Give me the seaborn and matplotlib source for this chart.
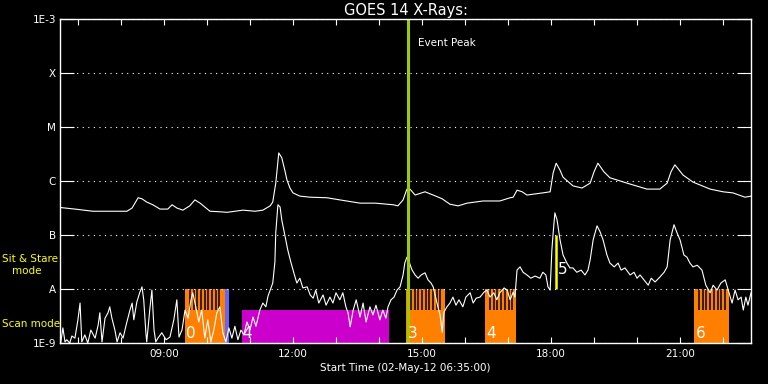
import numpy as np
import pandas as pd
import matplotlib
matplotlib.use("Agg")
import matplotlib.pyplot as plt
import seaborn as sns

# ---------------- data ----------------
# time in decimal hours (UT, 02-May-12), flux as log10(W/m^2)
long_time = [6.58, 6.93, 7.35, 7.74, 8.14, 8.26, 8.40, 8.49, 8.60, 8.74, 8.91, 9.09, 9.19, 9.30,
             9.44, 9.60, 9.72, 9.84, 10.07, 10.30, 10.47, 10.65, 10.84, 11.12, 11.30, 11.47,
             11.53, 11.60, 11.67, 11.74, 11.81, 11.86, 11.93, 12.00, 12.16, 12.40, 12.79, 13.09,
             13.56, 13.91, 14.33, 14.44, 14.56, 14.65, 14.72, 14.84, 15.07, 15.26, 15.47, 15.65,
             15.84, 16.05, 16.42, 16.81, 17.05, 17.12, 17.21, 17.33, 17.44, 17.81, 17.98, 18.05,
             18.12, 18.21, 18.28, 18.51, 18.72, 18.91, 19.00, 19.09, 19.23, 19.37, 19.77, 20.23,
             20.53, 20.70, 20.79, 20.88, 21.07, 21.30, 21.70, 22.00, 22.23, 22.51, 22.65]
long_logflux = [-6.49, -6.52, -6.56, -6.56, -6.56, -6.50, -6.31, -6.33, -6.39, -6.44, -6.52, -6.52,
                -6.44, -6.50, -6.54, -6.46, -6.35, -6.41, -6.56, -6.57, -6.58, -6.56, -6.54, -6.56,
                -6.54, -6.46, -6.39, -6.04, -5.48, -5.57, -5.80, -5.98, -6.13, -6.22, -6.28, -6.30,
                -6.31, -6.35, -6.41, -6.41, -6.44, -6.46, -6.35, -6.15, -6.15, -6.26, -6.20, -6.26,
                -6.33, -6.43, -6.46, -6.41, -6.37, -6.37, -6.31, -6.30, -6.17, -6.20, -6.26, -6.22,
                -6.20, -5.85, -5.67, -5.80, -5.93, -6.09, -6.13, -6.04, -5.83, -5.67, -5.83, -5.94,
                -6.04, -6.15, -6.15, -6.04, -5.83, -5.70, -5.89, -6.02, -6.15, -6.20, -6.22, -6.30,
                -6.28]

short_time = [6.60, 6.65, 6.70, 6.74, 6.81, 6.86, 6.93, 7.00, 7.05, 7.09, 7.16, 7.23, 7.30, 7.40,
              7.47, 7.51, 7.56, 7.63, 7.70, 7.74, 7.79, 7.86, 7.91, 7.98, 8.05, 8.12, 8.21, 8.26,
              8.30, 8.37, 8.44, 8.49, 8.53, 8.58, 8.60, 8.67, 8.72, 8.77, 8.81, 8.86, 8.95, 9.05,
              9.14, 9.23, 9.30, 9.35, 9.42, 9.49, 9.56, 9.63, 9.67, 9.74, 9.81, 9.88, 9.95, 10.02,
              10.09, 10.16, 10.23, 10.30, 10.37, 10.44, 10.51, 10.58, 10.65, 10.72, 10.79, 10.86,
              10.93, 11.00, 11.07, 11.14, 11.23, 11.30, 11.37, 11.42, 11.47, 11.53, 11.58, 11.60,
              11.65, 11.70, 11.74, 11.81, 11.88, 11.95, 12.02, 12.09, 12.16, 12.23, 12.33, 12.40,
              12.47, 12.53, 12.60, 12.70, 12.77, 12.86, 12.93, 13.00, 13.09, 13.16, 13.23, 13.28,
              13.33, 13.40, 13.47, 13.56, 13.63, 13.70, 13.79, 13.86, 13.93, 14.02, 14.09, 14.16,
              14.21, 14.28, 14.35, 14.42, 14.49, 14.56, 14.60, 14.65, 14.70, 14.77, 14.84, 14.91,
              14.98, 15.07, 15.14, 15.21, 15.26, 15.33, 15.37, 15.42, 15.47, 15.51, 15.58, 15.65,
              15.72, 15.79, 15.86, 15.95, 16.02, 16.12, 16.19, 16.26, 16.35, 16.44, 16.51, 16.58,
              16.67, 16.74, 16.81, 16.91, 16.98, 17.05, 17.12, 17.16, 17.21, 17.28, 17.35, 17.44,
              17.53, 17.63, 17.74, 17.81, 17.88, 17.93, 17.98, 18.02, 18.05, 18.09, 18.14, 18.21,
              18.28, 18.37, 18.44, 18.51, 18.60, 18.70, 18.79, 18.86, 18.91, 18.98, 19.07, 19.14,
              19.21, 19.30, 19.37, 19.47, 19.56, 19.63, 19.72, 19.84, 19.93, 20.00, 20.07, 20.16,
              20.26, 20.33, 20.42, 20.53, 20.63, 20.70, 20.77, 20.86, 20.93, 21.00, 21.09, 21.16,
              21.23, 21.30, 21.40, 21.51, 21.60, 21.70, 21.77, 21.86, 21.95, 22.05, 22.12, 22.21,
              22.28, 22.35, 22.42, 22.47, 22.53, 22.58, 22.65]
short_logflux = [-9.00, -8.72, -8.98, -8.94, -9.00, -8.87, -8.91, -8.57, -8.26, -8.98, -8.85, -9.00,
                 -8.76, -8.91, -8.67, -8.44, -8.98, -8.54, -8.44, -8.33, -8.54, -8.76, -8.98, -8.81,
                 -8.91, -8.67, -8.39, -8.26, -8.57, -8.24, -8.06, -7.96, -8.20, -8.81, -8.98, -8.39,
                 -8.02, -8.76, -8.98, -8.91, -8.81, -8.94, -8.89, -8.57, -8.20, -8.89, -8.76, -8.39,
                 -8.54, -8.20, -8.07, -8.33, -8.61, -8.39, -8.91, -8.57, -8.98, -8.76, -8.44, -8.33,
                 -8.81, -8.98, -8.72, -8.91, -8.69, -8.94, -8.76, -8.85, -8.61, -8.76, -8.52, -8.69,
                 -8.39, -8.26, -8.33, -8.13, -8.02, -7.89, -7.50, -6.96, -6.44, -6.48, -6.72, -7.00,
                 -7.28, -7.50, -7.70, -7.89, -7.80, -7.98, -7.96, -8.11, -8.17, -8.02, -8.26, -8.11,
                 -8.30, -8.15, -8.26, -8.07, -8.20, -8.07, -8.33, -8.44, -8.70, -8.39, -8.20, -8.52,
                 -8.26, -8.61, -8.33, -8.48, -8.30, -8.57, -8.39, -8.54, -8.33, -8.20, -8.15, -8.02,
                 -7.96, -7.74, -7.52, -7.41, -7.50, -7.65, -7.74, -7.80, -7.74, -7.70, -7.83, -7.89,
                 -7.96, -8.20, -8.33, -8.48, -8.80, -8.43, -8.33, -8.26, -8.15, -8.30, -8.20, -8.33,
                 -8.15, -8.07, -8.26, -8.17, -8.15, -8.06, -8.02, -8.15, -8.07, -8.20, -8.07, -7.98,
                 -8.02, -8.20, -8.06, -8.15, -7.65, -7.59, -7.69, -7.74, -7.80, -7.76, -7.80, -7.69,
                 -7.74, -7.96, -8.02, -7.28, -6.96, -6.59, -6.72, -7.09, -7.37, -7.52, -7.61, -7.61,
                 -7.69, -7.65, -7.74, -7.65, -7.46, -7.09, -6.83, -6.94, -7.09, -7.37, -7.52, -7.59,
                 -7.52, -7.65, -7.61, -7.74, -7.69, -7.80, -7.74, -7.83, -7.93, -7.80, -7.87, -7.78,
                 -7.69, -7.59, -7.09, -6.81, -6.96, -7.09, -7.37, -7.41, -7.52, -7.59, -7.56, -7.65,
                 -7.93, -8.07, -7.93, -8.02, -7.89, -7.83, -8.02, -8.26, -8.02, -8.20, -8.15, -8.39,
                 -8.15, -8.30, -8.07]

# observing-mode intervals (start, end in hours)
sitstare_start = [9.49, 14.63, 16.47, 21.33]
sitstare_end = [10.42, 15.53, 17.19, 22.14]
sitstare_label = ["0", "3", "4", "6"]
blue_start = [10.42]
blue_end = [10.51]
scan_start = [10.81]
scan_end = [14.23]
scan_label = ["4"]
marker5_time = 18.11
marker5_label = "5"
event_peak_time = 14.68

yticks_log = [-9, -8, -7, -6, -5, -4, -3]
ytick_labels = ["1E-9", "A", "B", "C", "M", "X", "1E-3"]
xticks_hours = [9, 12, 15, 18, 21]
xtick_labels = ["09:00", "12:00", "15:00", "18:00", "21:00"]
t_start, t_end = 6.5833, 22.65

title = "GOES 14 X-Rays:"
xlabel = "Start Time (02-May-12 06:35:00)"

# ---------------- style ----------------
sns.set_theme(style="dark")
plt.rcParams.update({
    "font.family": ["DejaVu Sans"],
    "figure.facecolor": "black",
    "axes.facecolor": "black",
    "axes.edgecolor": "white",
    "text.color": "white",
    "xtick.color": "white",
    "ytick.color": "white",
})

W, H = 768, 384
fig = plt.figure(figsize=(W / 100, H / 100), dpi=100)
ax = fig.add_axes([60 / W, 1 - 343 / H, 691 / W, 324 / H])
ax.set_facecolor("black")

LO, HI = 1e-9, 1e-3
scan_top = 10 ** -8.39
ss_top = 1e-8

ORANGE = "#ff8000"
MAGENTA = "#cc00cc"
BLUE = "#6464ff"
GREEN = "#9acd00"
YELLOW = "#ffff00"

# mode bars
for s, e in zip(sitstare_start, sitstare_end):
    ax.bar(s, ss_top - LO, width=e - s, bottom=LO, align="edge", color=ORANGE,
           linewidth=0, zorder=1)
    step = 0.086
    xs = np.arange(s + step * 1.3, e - step * 0.6, step)
    ax.vlines(xs, scan_top, ss_top, color="black", linewidth=1.1, zorder=1.5)
for s, e in zip(blue_start, blue_end):
    ax.bar(s, ss_top - LO, width=e - s, bottom=LO, align="edge", color=BLUE,
           linewidth=0, zorder=1)
for s, e in zip(scan_start, scan_end):
    ax.bar(s, scan_top - LO, width=e - s, bottom=LO, align="edge", color=MAGENTA,
           linewidth=0, zorder=1)

# curves
df_long = pd.DataFrame({"time": long_time, "flux": 10 ** np.array(long_logflux)})
df_short = pd.DataFrame({"time": short_time, "flux": 10 ** np.array(short_logflux)})
sns.lineplot(data=df_long, x="time", y="flux", ax=ax, color="white", linewidth=0.8,
             estimator=None, sort=False, zorder=2)
sns.lineplot(data=df_short, x="time", y="flux", ax=ax, color="white", linewidth=0.8,
             estimator=None, sort=False, zorder=2)

# event peak & marker 5
ax.axvline(event_peak_time, color=GREEN, linewidth=2.2, zorder=3)
ax.vlines(marker5_time, 1e-8, 1e-7, color=YELLOW, linewidth=1.8, zorder=3)
ax.text(event_peak_time + 0.23, 10 ** -3.45, "Event Peak", color="white", fontsize=7.5,
        ha="left", va="center", zorder=4)

# numbers in bars
for s, lab in zip(sitstare_start, sitstare_label):
    ax.text(s + 0.03, 10 ** -8.83, lab, color="white", fontsize=11, ha="left",
            va="center", zorder=4)
for s, lab in zip(scan_start, scan_label):
    ax.text(s + 0.02, 10 ** -8.83, lab, color="white", fontsize=11, ha="left",
            va="center", zorder=4)
ax.text(marker5_time + 0.05, 10 ** -7.63, marker5_label, color="white", fontsize=11,
        ha="left", va="center", zorder=4)

# axes
ax.set_yscale("log")
ax.set_ylim(LO, HI)
ax.set_xlim(t_start, t_end)
ax.set_yticks([10.0 ** v for v in yticks_log])
ax.set_yticklabels(ytick_labels)
ax.yaxis.set_minor_locator(matplotlib.ticker.NullLocator())
ax.set_xticks(xticks_hours)
ax.set_xticklabels(xtick_labels)
ax.set_xticks(np.arange(7, 23, 1), minor=True)
ax.set_xlabel(xlabel, fontsize=7.5, color="white", labelpad=3)
ax.set_ylabel("")
ax.set_title(title, fontsize=10.5, color="white", pad=3)

ax.tick_params(axis="y", which="major", direction="in", length=10, width=0.8,
               left=True, right=True, labelsize=7.5, pad=3)
ax.tick_params(axis="x", which="both", direction="in", length=4, width=0.8,
               bottom=True, top=True, labelsize=7.5, pad=4)
ax.grid(False)
ax.yaxis.grid(True, which="major", color="white", linestyle=(0, (1, 4)), linewidth=0.8)
ax.set_axisbelow(False)
for sp in ax.spines.values():
    sp.set_color("white")
    sp.set_linewidth(1.0)
    sp.set_visible(True)
    sp.set_zorder(5)

# mode labels
fig.text(2 / W, 1 - 259 / H, "Sit & Stare", color=YELLOW, fontsize=7.5, ha="left", va="center")
fig.text(12 / W, 1 - 271 / H, "mode", color=YELLOW, fontsize=7.5, ha="left", va="center")
fig.text(2 / W, 1 - 324 / H, "Scan mode", color=YELLOW, fontsize=7.5, ha="left", va="center")

fig.savefig("out.png", dpi=100, facecolor="black")
